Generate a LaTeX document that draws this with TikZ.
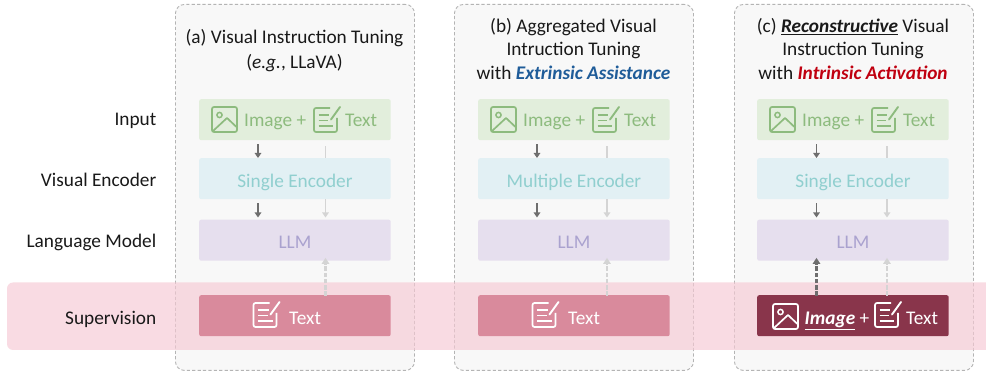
\documentclass[tikz,border=0pt]{standalone}
\usepackage{fontspec}
\setmainfont{Carlito}
\usetikzlibrary{arrows.meta}
\definecolor{panelfill}{HTML}{F8F8F8}
\definecolor{panelline}{HTML}{B4B4B4}
\definecolor{bandpink}{HTML}{F6C9D4}
\definecolor{inbox}{HTML}{E2EEDC}
\definecolor{intext}{HTML}{8DBB7E}
\definecolor{encboxc}{HTML}{E2F0F4}
\definecolor{enctext}{HTML}{90CFCF}
\definecolor{llmboxc}{HTML}{E6DFEE}
\definecolor{llmtext}{HTML}{AAA2CF}
\definecolor{supboxc}{HTML}{D98A9C}
\definecolor{supdark}{HTML}{89354B}
\definecolor{arrdark}{HTML}{6E6E6E}
\definecolor{arrlight}{HTML}{D4D4D4}
\definecolor{blueem}{HTML}{1F5C99}
\definecolor{redem}{HTML}{C00010}
\newcommand{\fs}{\fontsize{19.3}{23.4}\selectfont}
\tikzset{
  x=1pt,y=-1pt,
  panel/.style={draw=panelline,dash pattern=on 3.2pt off 2.2pt,line width=.9pt,fill=panelfill,rounded corners=9pt},
  band/.style={fill=bandpink,rounded corners=6pt,fill opacity=.65},
  layerbox/.style={rounded corners=2pt,minimum width=191.5pt,minimum height=41pt,inner sep=0pt,font=\fs},
  inputbox/.style={layerbox,fill=inbox,text=intext},
  encstyle/.style={layerbox,fill=encboxc,text=enctext},
  llmstyle/.style={layerbox,fill=llmboxc,text=llmtext},
  supstyle/.style={layerbox,fill=supboxc,text=white},
  supcstyle/.style={layerbox,fill=supdark,text=white},
  rowlabel/.style={font=\fs,text=black!90,inner sep=0pt,anchor=base east},
  titletext/.style={font=\fs,align=center,text=black!90,inner sep=0pt},
  darrow/.style={draw=arrdark,line width=1.4pt,-{Triangle[length=5pt,width=6.5pt]}},
  larrow/.style={draw=arrlight,line width=1.4pt,-{Triangle[length=5pt,width=6.5pt]}},
  lline/.style={draw=arrlight,line width=1.4pt},
  dashedup/.style={line width=2.2pt,dash pattern=on 4.5pt off 1.8pt,-{Triangle[length=6pt,width=7.5pt]}},
  boxtext/.style={inner sep=0pt,anchor=base west,font=\fs},
  pics/imgicon/.style={code={
    \draw[#1,line width=1.7pt,rounded corners=2pt] (0,0) rectangle (25,25);
    \draw[#1,line width=1.5pt] (7.5,8) circle (2.6);
    \draw[#1,line width=1.7pt,line join=round] (1,24) -- (15,11) -- (24.5,20);
  }},
  pics/txticon/.style={code={
    \draw[#1,line width=1.7pt,rounded corners=2pt] (16,1) -- (0,1) -- (0,25) -- (23,25) -- (23,11);
    \draw[#1,line width=1.7pt] (4.5,8) -- (15,8) (4.5,13.5) -- (14,13.5) (4.5,19) -- (19,19);
    \draw[#1,line width=1.9pt,line cap=round] (17,12.5) -- (26,0);
  }}
}
\newcommand{\panelrow}[5]{%
  % #1 prefix, #2 box left x, #3 encoder text, #4 left arrow x, #5 right arrow x
  \node[inputbox,anchor=north west] (#1in) at (#2,99) {};
  \node[encstyle,anchor=north west] (#1enc) at (#2,158) {\smash{\raisebox{-8.5pt}{#3}}};
  \node[llmstyle,anchor=north west] (#1llm) at (#2,219.5) {\smash{\raisebox{-8pt}{LLM}}};
  \coordinate (#1L) at (#4,0);
  \coordinate (#1R) at (#5,0);
  \pic at (#2+13,107) {imgicon=intext};
  \node[boxtext,text=intext] (#1img) at (#2+45,126.5) {Image +};
  \pic at (#2+115,107) {txticon=intext};
  \node[boxtext,text=intext] (#1txt) at (#2+146,126.5) {Text};
  \draw[darrow] ([yshift=-4pt]#1in.south -| #1L) -- (#1enc.north -| #1L);
  \draw[lline] ([yshift=-6pt]#1in.south -| #1R) -- (#1enc.north -| #1R);
  \draw[darrow] ([yshift=-4pt]#1enc.south -| #1L) -- ([yshift=2pt]#1llm.north -| #1L);
  \draw[larrow] (#1enc.south -| #1R) -- ([yshift=2pt]#1llm.north -| #1R);
}
\begin{document}
\begin{tikzpicture}
\useasboundingbox (0,0) rectangle (986,371);
\fill[white] (0,0) rectangle (986,371);
% panels
\node[panel,anchor=north west,minimum width=239pt,minimum height=366pt,inner sep=0pt] (pa) at (175,4) {};
\node[panel,anchor=north west,minimum width=239pt,minimum height=366pt,inner sep=0pt] (pb) at (454,4) {};
\node[panel,anchor=north west,minimum width=239pt,minimum height=366pt,inner sep=0pt] (pc) at (734,4) {};
% band
\path[band] (7,282.5) rectangle (1010,350);
% titles
\node[titletext] (ta) at (294.5,50.5) {(a) Visual Instruction Tuning\\[1.5pt](\textit{e.g.}, LLaVA)};
\node[titletext] (tb) at (573.5,49) {(b) Aggregated Visual\\Intruction Tuning\\with \textcolor{blueem}{\textbf{\textit{Extrinsic Assistance}}}};
\node[titletext] (tc) at (853,49) {(c) \underline{\textbf{\textit{Reconstructive}}} Visual\\Instruction Tuning\\with \textcolor{redem}{\textbf{\textit{Intrinsic Activation}}}};
% row labels
\node[rowlabel] (r1) at (156.5,126) {Input};
\node[rowlabel] (r2) at (156.5,187) {Visual Encoder};
\node[rowlabel] (r3) at (156.5,248) {Language Model};
\node[rowlabel] (r4) at (156.5,325) {Supervision};
% panels' layers
\panelrow{a}{199}{Single Encoder}{258}{325.5}
\panelrow{b}{478}{Multiple Encoder}{537}{607}
\panelrow{c}{757}{Single Encoder}{816.5}{887}
% supervision a
\node[supstyle,anchor=north west] (asup) at (199,295) {};
\pic at (253.5,302) {txticon=white};
\node[boxtext,text=white] (atx) at (289,324.5) {Text};
\draw[arrlight,dashedup] ([yshift=-1pt]asup.north -| aR) -- ([yshift=3pt]allm.south -| aR);
% supervision b
\node[supstyle,anchor=north west] (bsup) at (478,295) {};
\pic at (532.5,302) {txticon=white};
\node[boxtext,text=white] (btx) at (568,324.5) {Text};
\draw[arrlight,dashedup] ([yshift=-1pt]bsup.north -| bR) -- ([yshift=3pt]bllm.south -| bR);
% supervision c
\node[supcstyle,anchor=north west] (csup) at (757,295) {};
\pic at (773,304) {imgicon=white};
\node[boxtext,text=white] (cimg) at (804.5,324.5) {\underline{\textbf{\textit{Image}}} +};
\pic at (875,302) {txticon=white};
\node[boxtext,text=white] (ctx) at (906,324.5) {Text};
\draw[arrdark,dashedup] ([yshift=-1pt]csup.north -| cL) -- ([yshift=3pt]cllm.south -| cL);
\draw[arrlight,dashedup] ([yshift=-1pt]csup.north -| cR) -- ([yshift=3pt]cllm.south -| cR);
\end{tikzpicture}
\end{document}
